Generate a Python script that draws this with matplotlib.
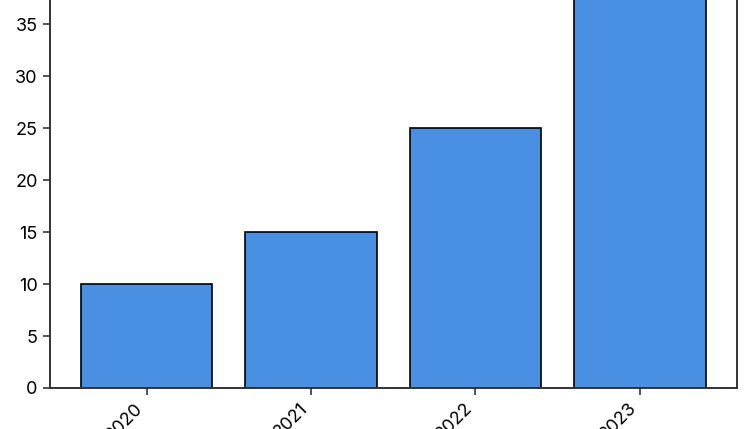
import matplotlib.pyplot as plt

years = ["2020", "2021", "2022", "2023"]
values = [10, 15, 25, 37.4]

plt.rcParams['font.family'] = ['Inter', 'DejaVu Sans']

fig = plt.figure(figsize=(7.5, 4.29), dpi=100)
# the original is cropped at the top, so the axes runs past the figure edge
y_top = 40
px_per_unit = 10.39
ax = fig.add_axes([49.5 / 750, 41 / 429, (737 - 49.5) / 750, y_top * px_per_unit / 429])

ax.bar(years, values, width=0.8, color='#4A90E2', edgecolor='black', linewidth=1.2)
ax.set_ylim(0, y_top)
ax.set_yticks(range(0, 40, 5))

for s in ax.spines.values():
    s.set_color('#333333')
    s.set_linewidth(1.4)

ax.tick_params(axis='both', labelsize=13, length=5, width=1.2, color='#333333')
plt.setp(ax.get_xticklabels(), rotation=45, ha='right')

fig.savefig('out.png', dpi=100)
